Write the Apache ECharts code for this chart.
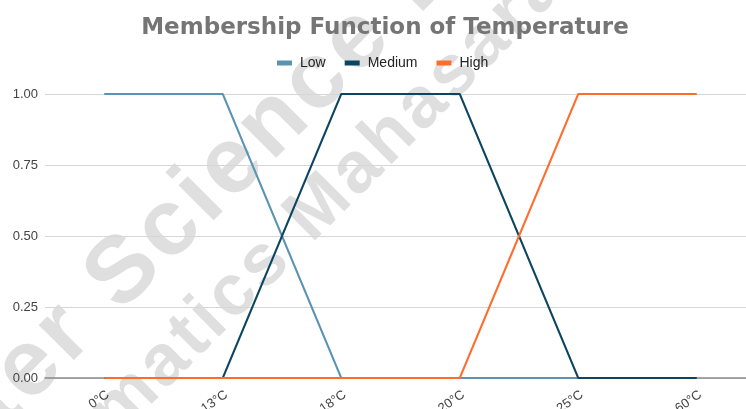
<!DOCTYPE html>
<html>
<head>
<meta charset="utf-8">
<title>Membership Function of Temperature</title>
<script src="https://cdn.jsdelivr.net/npm/echarts@6/dist/echarts.min.js"></script>
<style>
  html, body { margin: 0; padding: 0; background: #ffffff; }
  #chart { width: 746px; height: 409px; }
</style>
</head>
<body>
<div id="chart"></div>
<script>
// Temperature categories on the x axis
const categories = ['0°C', '13°C', '18°C', '20°C', '25°C', '60°C'];

// Membership degree of each fuzzy set at each temperature
const lowValues = [1, 1, 0, 0, 0, 0];
const mediumValues = [0, 0, 1, 1, 0, 0];
const highValues = [0, 0, 0, 0, 1, 1];

// Y axis ticks
const yTicks = [0, 0.25, 0.5, 0.75, 1];

const seriesNames = ['Low', 'Medium', 'High'];
const seriesColors = ['#5b93b3', '#0c4560', '#ff6d2e'];

// Background watermark lines
const watermarkLines = [
  { text: 'Computer Science Department', size: 94, spacing: 5, anchorIndex: 9, anchorT: -105, nMid: 281 },
  { text: 'Informatics Mahasarakham University', size: 72, spacing: 4, anchorIndex: 12, anchorT: 78, nMid: 373 }
];

const SANS = '"Liberation Sans", Arial, sans-serif';
const DEG = Math.PI / 180;
const WM_ANGLE = 45 * DEG;
const watermarkFill = '#dfdfdf';
const watermarkFont = (size) => 'bold ' + size + 'px ' + SANS;

// Lay out letter-spaced glyphs along a diagonal line.
// t runs along the text direction, n across it (both in px).
function watermarkGlyphs(line) {
  const ctx = document.createElement('canvas').getContext('2d');
  ctx.font = watermarkFont(line.size);
  const chars = Array.from(line.text);
  const centers = [];
  let acc = 0;
  chars.forEach((ch) => {
    const w = ctx.measureText(ch).width;
    centers.push(acc + w / 2);
    acc += w + line.spacing;
  });
  const shift = line.anchorT - centers[line.anchorIndex];
  const c = Math.cos(WM_ANGLE), s = Math.sin(WM_ANGLE);
  const out = [];
  chars.forEach((ch, i) => {
    if (ch === ' ') return;
    const t = centers[i] + shift;
    const n = line.nMid;
    out.push({
      type: 'text',
      z: -10,
      silent: true,
      x: t * c + n * s,
      y: -t * s + n * c,
      rotation: WM_ANGLE,
      style: {
        text: ch,
        font: watermarkFont(line.size),
        fill: watermarkFill,
        textAlign: 'center',
        textVerticalAlign: 'middle'
      }
    });
  });
  return out;
}

const chart = echarts.init(document.getElementById('chart'), null, { renderer: 'canvas' });

const makeSeries = (name, data, color) => ({
  name: name,
  type: 'line',
  data: data,
  symbol: 'none',
  smooth: false,
  lineStyle: { width: 2, color: color },
  itemStyle: { color: color },
  emphasis: { disabled: true }
});

chart.setOption({
  animation: false,
  backgroundColor: '#ffffff',
  title: {
    text: 'Membership Function of Temperature',
    left: 385,
    textAlign: 'center',
    top: 17,
    padding: 0,
    textStyle: {
      fontFamily: '"DejaVu Sans", sans-serif',
      fontSize: 23,
      fontWeight: 'bold',
      color: '#757575'
    }
  },
  legend: {
    data: seriesNames,
    left: 277,
    top: 56,
    icon: 'rect',
    itemWidth: 15,
    itemHeight: 5,
    itemGap: 19,
    padding: 0,
    textStyle: {
      fontFamily: SANS,
      fontSize: 14,
      color: '#222222',
      padding: [0, 0, 0, 3]
    }
  },
  graphic: {
    elements: watermarkLines.flatMap(watermarkGlyphs)
  },
  grid: {
    left: 45,
    top: 94,
    right: -10,
    bottom: 31,
    containLabel: false,
    outerBoundsMode: 'none'
  },
  xAxis: {
    type: 'category',
    data: categories,
    boundaryGap: true,
    axisLine: { show: true, lineStyle: { color: '#8a8a8a', width: 1.5 } },
    axisTick: { show: false },
    splitLine: { show: false },
    axisLabel: {
      rotate: 35,
      margin: 10,
      verticalAlign: 'top',
      fontFamily: SANS,
      fontSize: 13,
      color: '#444444'
    }
  },
  yAxis: {
    type: 'value',
    min: yTicks[0],
    max: yTicks[yTicks.length - 1],
    interval: yTicks[1] - yTicks[0],
    axisLine: { show: false },
    axisTick: { show: false },
    splitLine: { show: true, lineStyle: { color: '#d6d6d6', width: 1 } },
    axisLabel: {
      margin: 7,
      fontFamily: SANS,
      fontSize: 13,
      color: '#444444',
      formatter: (v) => v.toFixed(2)
    }
  },
  series: [
    makeSeries(seriesNames[0], lowValues, seriesColors[0]),
    makeSeries(seriesNames[1], mediumValues, seriesColors[1]),
    makeSeries(seriesNames[2], highValues, seriesColors[2])
  ]
});
</script>
</body>
</html>
